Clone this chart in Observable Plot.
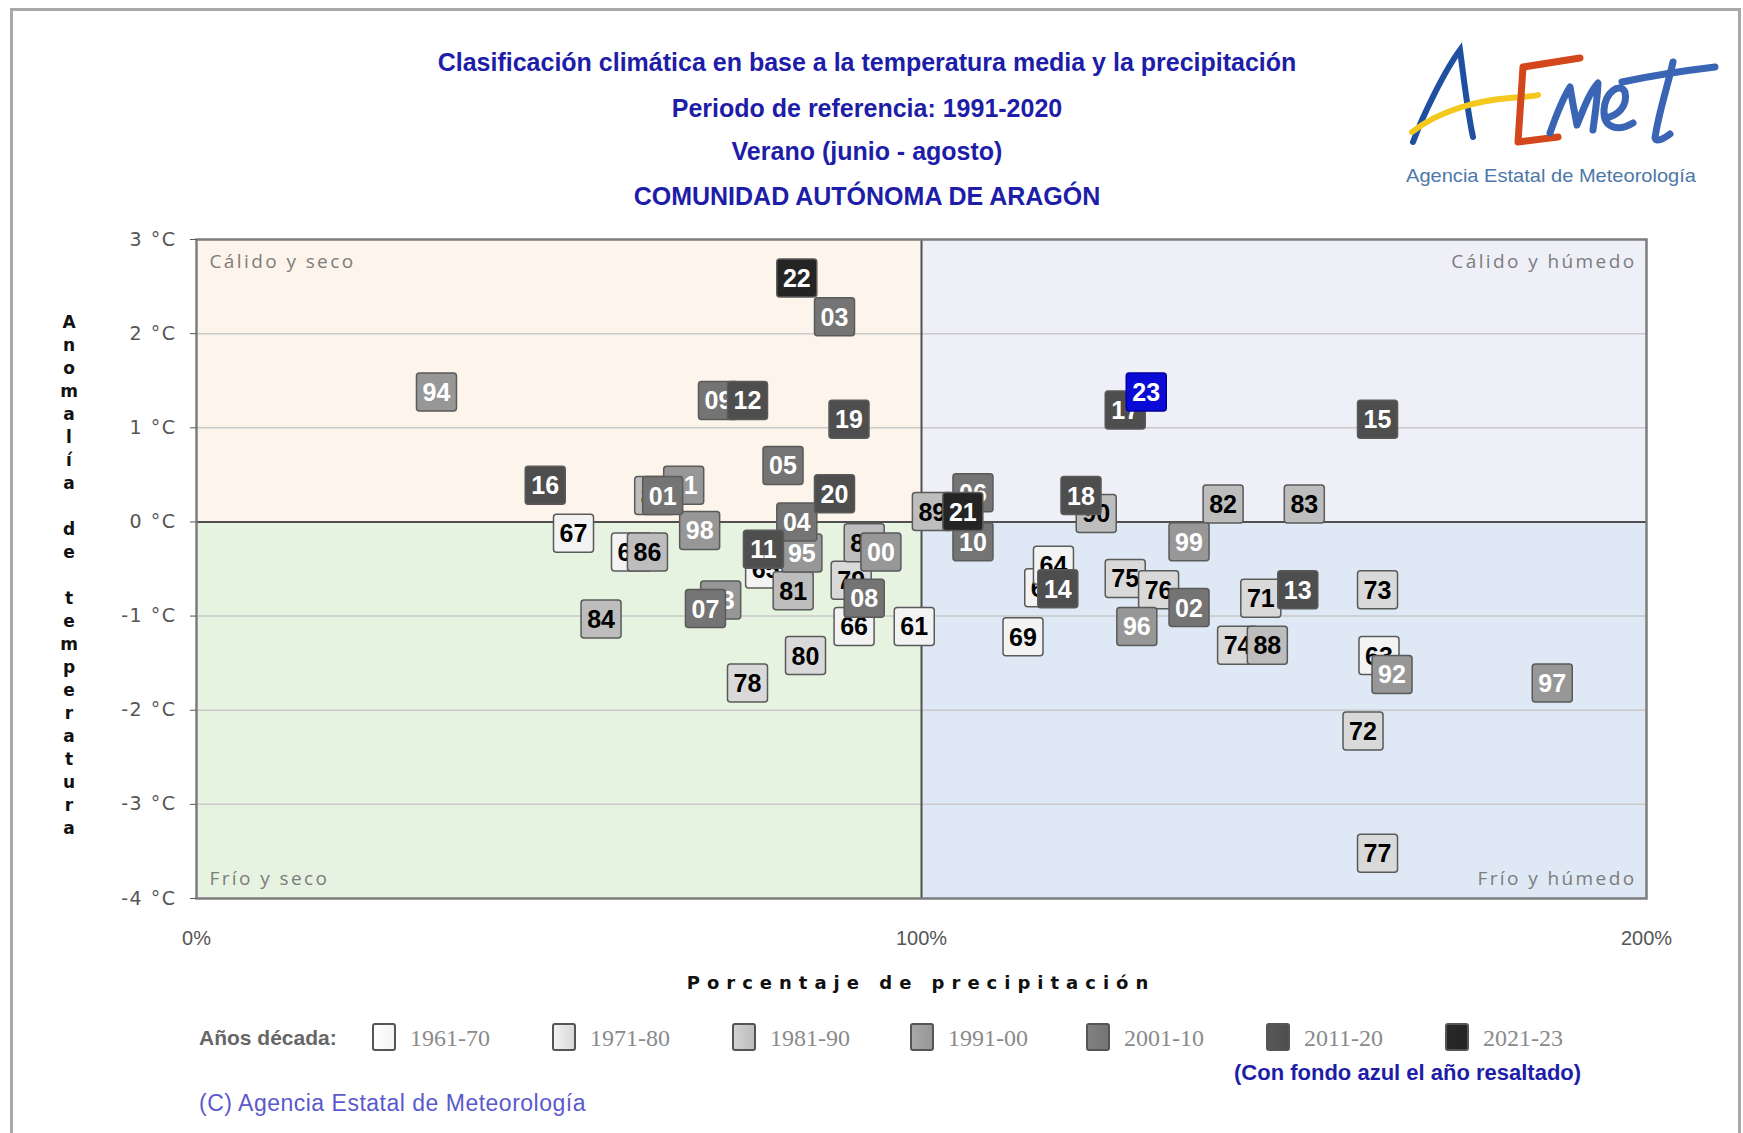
<!DOCTYPE html>
<html><head><meta charset="utf-8">
<script src="https://cdn.jsdelivr.net/npm/d3@7"></script>
<script src="https://cdn.jsdelivr.net/npm/@observablehq/plot@0.6"></script>
<style>
body{margin:0;background:#fff;width:1743px;height:1133px;position:relative;overflow:hidden;font-family:"Liberation Sans",sans-serif}
#outer{position:absolute;left:10px;top:8px;width:1731px;height:1140px;border:3px solid #a8a8a8;box-sizing:border-box}
.title{position:absolute;left:0;width:1734px;text-align:center;font-family:"Liberation Sans",sans-serif;font-weight:bold;color:#1d1da8;font-size:25px;line-height:30px}
#chart{position:absolute;left:0;top:0}
#ytitle{position:absolute;left:54px;top:311px;width:30px;text-align:center;font-family:"DejaVu Sans",sans-serif;font-weight:bold;font-size:17px;line-height:23px;color:#111}
#xtitle{position:absolute;left:0;width:1842px;top:972px;text-align:center;font-family:"DejaVu Sans",sans-serif;font-weight:bold;font-size:18px;letter-spacing:7px;color:#111}
.leg{position:absolute;top:1024px;height:28px;line-height:28px;font-family:"Liberation Serif",serif;font-size:24px;color:#8a8a8a}
.sw{position:absolute;top:1023px;width:24px;height:28px;border:2px solid #555;border-radius:3px;box-sizing:border-box}
#legtitle{position:absolute;left:199px;top:1024px;line-height:28px;font-family:"Liberation Sans",sans-serif;font-weight:bold;font-size:21px;color:#666}
#note{position:absolute;left:1234px;top:1059px;line-height:28px;font-family:"Liberation Sans",sans-serif;font-weight:bold;font-size:22px;color:#1d1da8}
#copy{position:absolute;left:199px;top:1089px;line-height:28px;font-family:"Liberation Sans",sans-serif;font-size:23px;letter-spacing:0.5px;color:#5a5acc}
#logo{position:absolute;left:1390px;top:30px}
</style></head><body>
<div id="outer"></div>
<div class="title" style="top:47px">Clasificación climática en base a la temperatura media y la precipitación</div>
<div class="title" style="top:93px">Periodo de referencia: 1991-2020</div>
<div class="title" style="top:136px">Verano (junio - agosto)</div>
<div class="title" style="top:181px">COMUNIDAD AUTÓNOMA DE ARAGÓN</div>
<svg id="logo" width="340" height="170" viewBox="0 0 340 170">
  <path d="M23,112 C33,85 55,40 70,20 C74,50 78,85 83,107" fill="none" stroke="#1f4fa0" stroke-width="6" stroke-linecap="round"/>
  <path d="M22,102 C50,80 90,70 120,68 C135,67 145,66 148,65" fill="none" stroke="#f4c81c" stroke-width="6" stroke-linecap="round"/>
  <path d="M190,28 L133,37 L128,112 L168,107" fill="none" stroke="#d4461c" stroke-width="7" stroke-linecap="round" stroke-linejoin="round"/>
  <path d="M160,103 C168,80 175,65 180,57 C183,75 186,90 187,95 C195,75 200,62 208,53 C207,75 204,90 203,100" fill="none" stroke="#3a64b4" stroke-width="7" stroke-linecap="round" stroke-linejoin="round"/>
  <path d="M215,88 C228,86 238,76 235,62 C230,52 215,62 214,80 C213,98 228,102 243,93" fill="none" stroke="#3a64b4" stroke-width="7" stroke-linecap="round"/>
  <path d="M283,32 C278,55 268,85 265,108 C266,112 272,110 280,104" fill="none" stroke="#3a64b4" stroke-width="7" stroke-linecap="round"/>
  <path d="M232,52 C260,46 300,40 325,37" fill="none" stroke="#3a64b4" stroke-width="7" stroke-linecap="round"/>
  <text x="16" y="152" font-family="Liberation Sans, sans-serif" font-size="19" fill="#4d77a8" textLength="290" lengthAdjust="spacingAndGlyphs">Agencia Estatal de Meteorología</text>
</svg>
<div id="chart"></div>
<div id="ytitle"></div>
<div id="xtitle">Porcentaje de precipitación</div>
<div id="legtitle">Años década:</div>
<div id="legend"></div>
<div id="note">(Con fondo azul el año resaltado)</div>
<div id="copy">(C) Agencia Estatal de Meteorología</div>
<script>
// ---- data ----
const years   = ["61","62","63","64","65","66","67","68","69","71","72","73","74","75","76","77","78","79","80",
                 "81","82","83","84","85","86","87","88","89","90","91","92","93","94","95","96","97","98","99","00",
                 "01","02","03","04","05","06","07","08","09","10","11","12","13","14","15","16","17","18","19","20",
                 "21","22","23"];
const precip  = [99.0,117.0,163.1,118.2,78.5,90.7,52.0,60.0,114.0,146.8,160.9,162.9,143.6,128.1,132.7,162.9,76.0,90.3,84.0,
                 82.3,141.6,152.8,55.8,92.1,62.2,63.2,147.7,101.5,124.1,67.2,164.9,72.3,33.1,83.5,129.7,187.0,69.4,136.9,94.4,
                 64.3,136.9,88.0,82.8,80.9,107.1,70.2,92.1,72.0,107.1,78.2,76.0,151.9,118.8,162.9,48.1,128.1,122.0,90.0,88.0,
                 105.7,82.8,131.0];
const anomaly = [-1.11,-0.70,-1.42,-0.46,-0.50,-1.11,-0.12,-0.32,-1.22,-0.81,-2.22,-0.72,-1.31,-0.60,-0.72,-3.52,-1.71,-0.62,-1.42,
                 -0.73,0.19,0.19,-1.03,-0.22,-0.32,0.28,-1.31,0.11,0.09,0.39,-1.62,-0.83,1.38,-0.33,-1.11,-1.71,-0.09,-0.21,-0.32,
                 0.28,-0.91,2.18,0.00,0.60,0.31,-0.92,-0.81,1.29,-0.21,-0.29,1.29,-0.72,-0.71,1.09,0.39,1.19,0.28,1.09,0.30,
                 0.11,2.59,1.38];
const highlightYear = "23";
const decadeNames = ["1961-70","1971-80","1981-90","1991-00","2001-10","2011-20","2021-23"];
const decadeFills = ["#f3f3f3","#d9d9d9","#bdbdbd","#979797","#747474","#4e4e4e","#242424"];
const decadeInk   = ["#000","#000","#000","#fff","#fff","#fff","#fff"];
const highlightFill = "#0b0bd8";
const yTicks = [-4,-3,-2,-1,0,1,2,3];
const xTicks = [0,100,200];
const quadX1 = [0,100,0,100], quadX2 = [100,200,100,200];
const quadY1 = [0,0,-4,-4],   quadY2 = [3,3,0,0];
const quadFill = ["#fdf4eb","#efeff8","#e6f3e1","#dee9f5"];
const quadNames = ["Cálido y seco","Cálido y húmedo","Frío y seco","Frío y húmedo"];

// ---- build ----
const decadeOf = yy => { const n = +yy; const full = n >= 61 ? 1900 + n : 2000 + n; return Math.min(6, Math.floor((full - 1961) / 10)); };
const points = years.map((yy, i) => ({label: yy, x: precip[i], y: anomaly[i], dec: decadeOf(yy)}));
const quads = quadX1.map((_, i) => ({x1: quadX1[i], x2: quadX2[i], y1: quadY1[i], y2: quadY2[i], fill: quadFill[i]}));

const BW = 40, BH = 38;
const boxSymbol = {draw(ctx) { const r = 3, x0 = -BW/2, y0 = -BH/2, x1 = BW/2, y1 = BH/2;
  ctx.moveTo(x0 + r, y0); ctx.lineTo(x1 - r, y0); ctx.arcTo(x1, y0, x1, y0 + r, r); ctx.lineTo(x1, y1 - r);
  ctx.arcTo(x1, y1, x1 - r, y1, r); ctx.lineTo(x0 + r, y1); ctx.arcTo(x0, y1, x0, y1 - r, r); ctx.lineTo(x0, y0 + r);
  ctx.arcTo(x0, y0, x0 + r, y0, r); ctx.closePath(); }};

const fillOf = d => d.label === highlightYear ? highlightFill : decadeFills[d.dec];
const inkOf = d => d.label === highlightYear ? "#fff" : decadeInk[d.dec];

const pointMarks = points.flatMap(d => [
  Plot.dot([d], {x: "x", y: "y", symbol: boxSymbol, r: 10, fill: fillOf(d), stroke: d.label === highlightYear ? "#0000a0" : "#5a5a5a", strokeWidth: 1.5}),
  Plot.text([d], {x: "x", y: "y", text: "label", fill: inkOf(d), fontSize: 25, fontWeight: "bold", fontFamily: "Liberation Sans, sans-serif", dy: 1})
]);

const qText = (i, anchor, dx, dy, ta) => Plot.text([quadNames[i]], {frameAnchor: anchor, dx, dy, text: d => d, textAnchor: ta,
  fill: "#7c7c7c", fontSize: 19, fontFamily: "Open Sans, sans-serif"});

const chart = Plot.plot({
  width: 1743, height: 1000,
  marginLeft: 196, marginRight: 97, marginTop: 239, marginBottom: 102,
  x: {domain: [0, 200]}, y: {domain: [-4, 3]},
  style: {background: "transparent", overflow: "visible"},
  marks: [
    Plot.rect(quads, {x1: "x1", x2: "x2", y1: "y1", y2: "y2", fill: "fill"}),
    Plot.ruleY(yTicks.filter(t => t !== 0 && t !== 3 && t !== -4), {stroke: "#c9c9c9", strokeWidth: 1.5}),
    Plot.ruleY([0], {stroke: "#505050", strokeWidth: 2}),
    Plot.ruleX([100], {stroke: "#505050", strokeWidth: 2}),
    Plot.frame({stroke: "#7d7d7d", strokeWidth: 2.5}),
    Plot.axisY({ticks: yTicks, tickFormat: d => `${d} °C`, tickSize: 6, tickPadding: 14, fontSize: 19, color: "#555", fontFamily: "DejaVu Sans, sans-serif", label: null}),
    Plot.axisX({ticks: xTicks, tickFormat: d => `${d}%`, tickSize: 0, tickPadding: 32, fontSize: 20, color: "#555", fontFamily: "Liberation Sans, sans-serif", label: null}),
    qText(0, "top-left", 13, 15, "start"),
    qText(1, "top-right", -10, 15, "end"),
    qText(2, "bottom-left", 13, -14, "start"),
    qText(3, "bottom-right", -10, -14, "end"),
    ...pointMarks
  ]
});
document.getElementById("chart").appendChild(chart);

// letter spacing for quadrant labels and y tick labels
d3.select(chart).selectAll("text").each(function() {
  const t = this.textContent;
  if (quadNames.includes(t)) this.style.letterSpacing = "2.4px";
  else if (t.endsWith("°C")) this.style.letterSpacing = "1.5px";
});

// stacked y title
document.getElementById("ytitle").innerHTML = Array.from("Anomalía de temperatura").map(c => c === " " ? "&nbsp;" : c).join("<br>");

// legend
const swX = [372, 552, 732, 910, 1086, 1266, 1445];
const leg = document.getElementById("legend");
decadeNames.forEach((name, i) => {
  const s = document.createElement("div"); s.className = "sw";
  s.style.left = swX[i] + "px";
  s.style.background = `linear-gradient(to right, ${d3.color(decadeFills[i]).brighter(0.3)}, ${decadeFills[i]})`;
  leg.appendChild(s);
  const t = document.createElement("div"); t.className = "leg"; t.textContent = name;
  t.style.left = (swX[i] + 38) + "px"; leg.appendChild(t);
});
</script>
</body></html>
